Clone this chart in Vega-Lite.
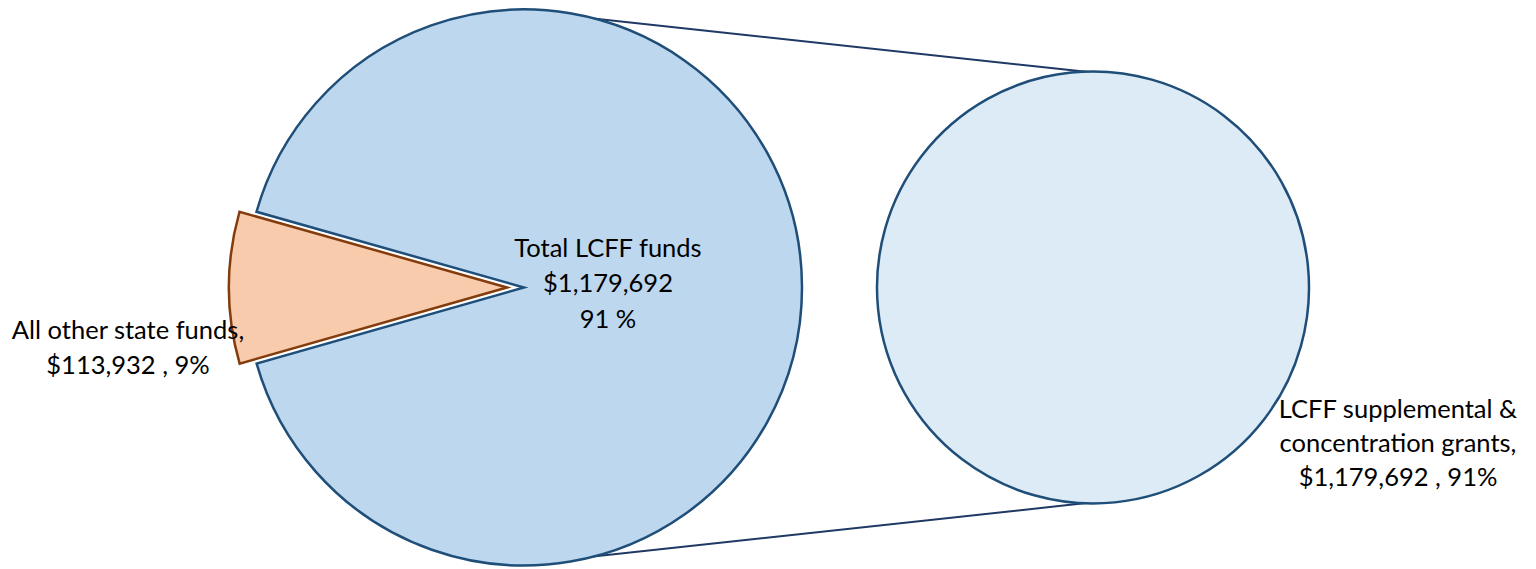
{
  "$schema": "https://vega.github.io/schema/vega-lite/v6.json",
  "width": 1536,
  "height": 569,
  "autosize": {"type": "fit", "contains": "padding"},
  "padding": 0,
  "background": "white",
  "config": {"view": {"stroke": null}},
  "datasets": {
    "slices": [
      {"pie": "Total state funds", "part": "Total LCFF funds", "value": 1179692, "order": 1, "cx": 524, "cy": 289},
      {"pie": "Total state funds", "part": "All other state funds", "value": 113932, "order": 2, "cx": 507, "cy": 289},
      {"pie": "LCFF funds", "part": "LCFF supplemental & concentration grants", "value": 1179692, "order": 1, "cx": 1093, "cy": 289}
    ],
    "connectors": [
      {"edge": "top", "x1": 524, "y1": 11, "x2": 1093, "y2": 73},
      {"edge": "bottom", "x1": 524, "y1": 567, "x2": 1093, "y2": 505}
    ],
    "labels": [
      {"label": "Total LCFF funds", "x": 608, "y": 250},
      {"label": "$1,179,692", "x": 608, "y": 286},
      {"label": "91 %", "x": 608, "y": 322},
      {"label": "All other state funds,", "x": 128, "y": 333},
      {"label": "$113,932 , 9%", "x": 128, "y": 368},
      {"label": "LCFF supplemental &", "x": 1398, "y": 412},
      {"label": "concentration grants,", "x": 1398, "y": 446},
      {"label": "$1,179,692 , 91%", "x": 1398, "y": 481}
    ]
  },
  "layer": [
    {
      "data": {"name": "connectors"},
      "mark": {"type": "rule", "stroke": "#1F3864", "strokeWidth": 2},
      "encoding": {
        "x": {"field": "x1", "type": "quantitative", "scale": {"domain": [0, 1536]}, "axis": null},
        "y": {"field": "y1", "type": "quantitative", "scale": {"domain": [0, 569], "reverse": true}, "axis": null},
        "x2": {"field": "x2"},
        "y2": {"field": "y2"}
      }
    },
    {
      "data": {"name": "slices"},
      "transform": [
        {"stack": "value", "groupby": ["pie"], "sort": [{"field": "order"}], "offset": "normalize", "as": ["v0", "v1"]},
        {"filter": "datum.pie == 'Total state funds'"}
      ],
      "mark": {"type": "arc", "radius": 278, "strokeWidth": 2.5, "strokeJoin": "miter"},
      "encoding": {
        "x": {"field": "cx", "type": "quantitative", "scale": {"domain": [0, 1536]}, "axis": null},
        "y": {"field": "cy", "type": "quantitative", "scale": {"domain": [0, 569], "reverse": true}, "axis": null},
        "theta": {"field": "v0", "type": "quantitative", "scale": {"domain": [0, 1], "range": [-1.295, 4.9882]}},
        "theta2": {"field": "v1"},
        "fill": {"field": "part", "type": "nominal", "legend": null, "scale": {"domain": ["Total LCFF funds", "All other state funds", "LCFF supplemental & concentration grants"], "range": ["#BDD7EE", "#F8CBAD", "#DDEBF7"]}},
        "stroke": {"field": "part", "type": "nominal", "legend": null, "scale": {"domain": ["Total LCFF funds", "All other state funds", "LCFF supplemental & concentration grants"], "range": ["#1F4E79", "#843C0C", "#1F4E79"]}}
      }
    },
    {
      "data": {"name": "slices"},
      "transform": [
        {"stack": "value", "groupby": ["pie"], "sort": [{"field": "order"}], "offset": "normalize", "as": ["v0", "v1"]},
        {"filter": "datum.pie == 'LCFF funds'"}
      ],
      "mark": {"type": "arc", "radius": 216, "strokeWidth": 2.5},
      "encoding": {
        "x": {"field": "cx", "type": "quantitative", "scale": {"domain": [0, 1536]}, "axis": null},
        "y": {"field": "cy", "type": "quantitative", "scale": {"domain": [0, 569], "reverse": true}, "axis": null},
        "theta": {"field": "v0", "type": "quantitative", "scale": {"domain": [0, 1], "range": [-1.295, 4.9882]}},
        "theta2": {"field": "v1"},
        "fill": {"field": "part", "type": "nominal", "legend": null},
        "stroke": {"field": "part", "type": "nominal", "legend": null}
      }
    },
    {
      "data": {"name": "labels"},
      "mark": {"type": "text", "font": "Lato", "fontSize": 25.5, "align": "center", "baseline": "middle", "color": "#000000"},
      "encoding": {
        "x": {"field": "x", "type": "quantitative", "scale": {"domain": [0, 1536]}, "axis": null},
        "y": {"field": "y", "type": "quantitative", "scale": {"domain": [0, 569], "reverse": true}, "axis": null},
        "text": {"field": "label", "type": "nominal"}
      }
    }
  ]
}
